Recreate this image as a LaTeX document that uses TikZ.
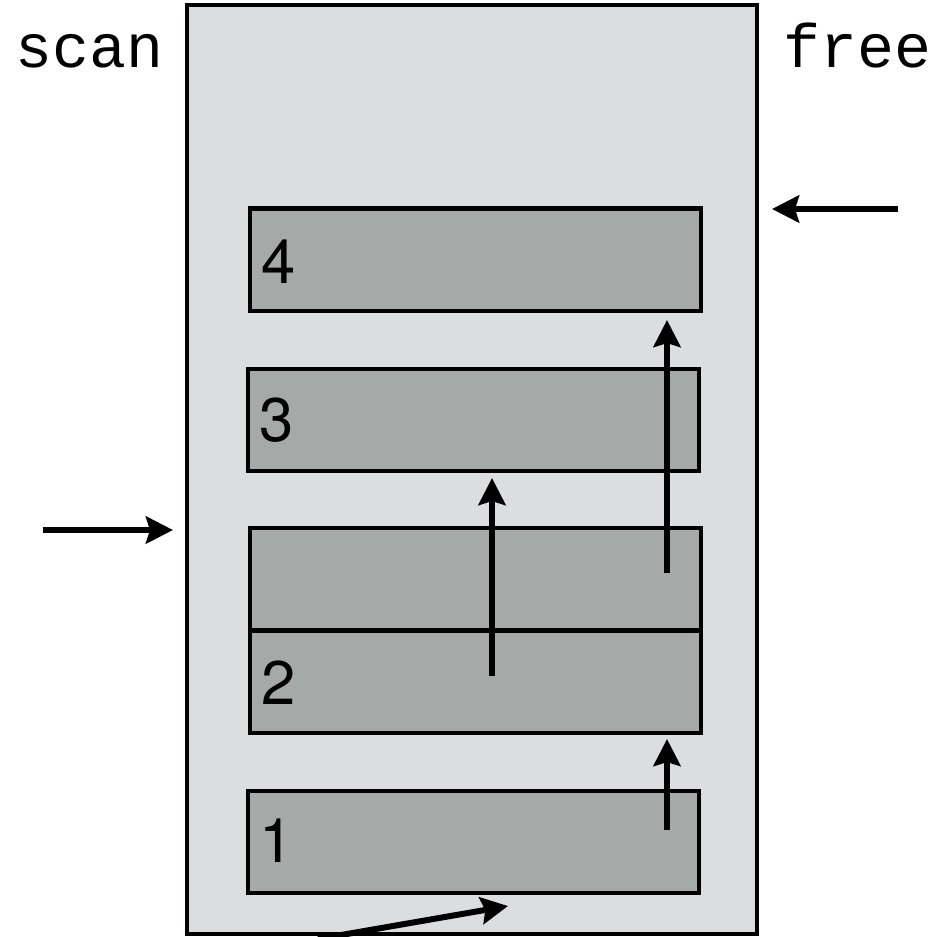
\documentclass[tikz,border=0pt]{standalone}
\usepackage{fontspec}
\setsansfont{TeX Gyre Heros}
\setmonofont{Liberation Mono}
\usetikzlibrary{arrows.meta,positioning}
\definecolor{heapgray}{HTML}{DCDDDF}
\definecolor{objgray}{HTML}{A5A9A8}

\begin{document}
\begin{tikzpicture}[
  x=0.01cm, y=-0.01cm,
  >={Stealth[length=0.27cm, width=0.27cm, inset=0.04cm]},
  heap/.style={draw=black, fill=heapgray, line width=1.15pt},
  obj/.style={rectangle, draw=black, fill=objgray, line width=1.15pt, minimum width=4.51cm, minimum height=1.02cm, inner sep=0pt},
  num/.style={font=\sffamily\fontsize{17.5}{20}\selectfont, inner sep=0pt, anchor=base west},
  ptr/.style={font=\ttfamily\fontsize{17.5}{20}\selectfont, inner sep=0pt, anchor=base west},
  arrow/.style={->, line width=1.7pt}
]
\useasboundingbox (0,0) rectangle (943,936);
% heap area
\draw[heap] (187,5) rectangle (757,934);
% objects
\node[obj] (obj4) at (475.5,259.5) {};
\node[obj] (obj3) at (473.5,420) {};
\node[obj] (objtop) at (475.5,579) {};
\node[obj] (obj2) at (475.5,682) {};
\node[obj] (obj1) at (473.5,842) {};
\node[num] (n4) at ([xshift=0.13cm, yshift=-0.24cm]obj4.west) {4};
\node[num] (n3) at ([xshift=0.13cm, yshift=-0.21cm]obj3.west) {3};
\node[num] (n2) at ([xshift=0.13cm, yshift=-0.22cm]obj2.west) {2};
\node[num] (n1) at ([xshift=0.13cm, yshift=-0.20cm]obj1.west) {1};
% pointers
\node[ptr] (scan) at (15,67) {scan};
\node[ptr] (free) at (783,67) {free};
\coordinate (scanfrom) at (43,530);
\coordinate (scanto) at (173,530);
\coordinate (freefrom) at (898,209);
\coordinate (freeto) at (772,209);
\draw[arrow] (scanfrom) -- (scanto);
\draw[arrow] (freefrom) -- (freeto);
% copied references
\coordinate (a1) at (492,676);
\coordinate (a2) at (492,478);
\coordinate (b1) at (667,573);
\coordinate (b2) at (667,320);
\coordinate (c1) at (667,830);
\coordinate (c2) at (667,739);
\coordinate (d1) at (318,939);
\coordinate (d2) at (508,906);
\draw[arrow] (a1) -- (a2);
\draw[arrow] (b1) -- (b2);
\draw[arrow] (c1) -- (c2);
\draw[arrow] (d1) -- (d2);
\end{tikzpicture}
\end{document}
